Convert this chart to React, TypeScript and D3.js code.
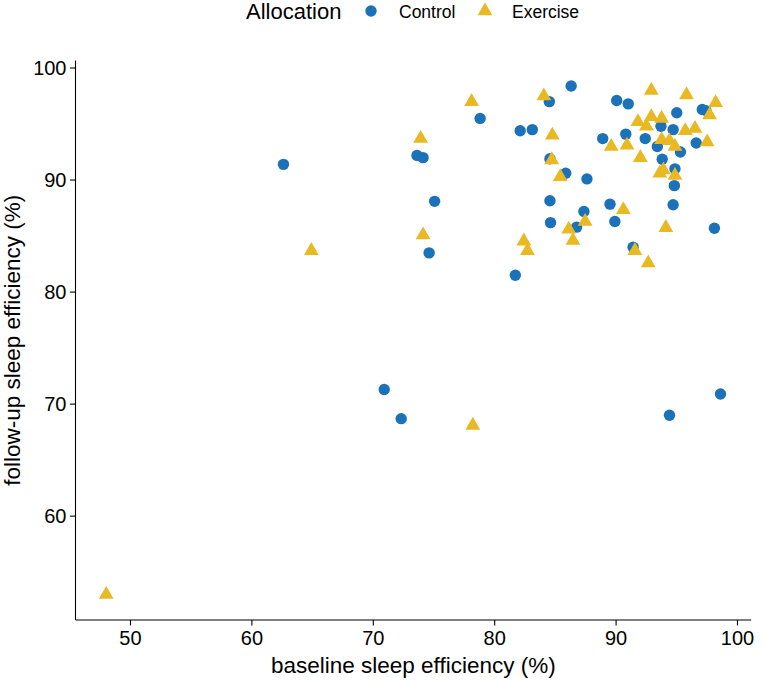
import React from "react";
import * as d3 from "d3";

const controlBaseline = [62.6, 70.9, 72.3, 73.6, 74.1, 75.05, 74.6, 78.8, 81.7, 82.1, 83.1, 84.5, 86.3, 84.55, 85.85, 84.55, 84.6, 87.6, 87.35, 86.75, 88.9, 89.5, 89.9, 90.05, 91.0, 90.8, 91.4, 92.4, 93.4, 93.7, 93.8, 94.7, 95.0, 95.3, 94.85, 94.8, 94.7, 96.6, 97.1, 97.4, 98.1, 94.4, 98.6];
const controlFollowup = [91.4, 71.3, 68.7, 92.2, 92.0, 88.1, 83.5, 95.5, 81.5, 94.4, 94.5, 97.0, 98.4, 91.9, 90.6, 88.15, 86.2, 90.1, 87.2, 85.8, 93.7, 87.85, 86.3, 97.1, 96.8, 94.1, 84.0, 93.7, 93.0, 94.8, 91.85, 94.5, 96.0, 92.5, 91.0, 89.5, 87.8, 93.3, 96.3, 96.2, 85.7, 69.0, 70.9];

const exerciseBaseline = [48.0, 64.9, 73.9, 74.1, 78.1, 78.2, 82.4, 82.7, 84.05, 84.75, 84.7, 85.4, 86.1, 86.45, 87.45, 89.6, 90.9, 90.6, 91.8, 92.5, 92.9, 92.9, 93.75, 92.0, 93.75, 94.4, 94.85, 93.6, 93.9, 94.85, 94.1, 91.55, 92.65, 95.7, 96.5, 95.8, 97.5, 97.7, 98.2];
const exerciseFollowup = [53.0, 83.7, 93.7, 85.1, 97.0, 68.1, 84.55, 83.7, 97.5, 94.0, 91.8, 90.3, 85.6, 84.6, 86.3, 93.0, 93.1, 87.35, 95.2, 94.8, 95.65, 98.0, 95.5, 92.0, 93.6, 93.5, 93.0, 90.6, 90.9, 90.4, 85.75, 83.7, 82.6, 94.4, 94.6, 97.6, 93.4, 95.8, 96.9];

const xTicks = [50, 60, 70, 80, 90, 100];
const yTicks = [60, 70, 80, 90, 100];
const groups = ["Control", "Exercise"];

const W = 764;
const H = 682;
const FONT = "'Liberation Sans', Arial, sans-serif";
const BLUE = "#1c72b8";
const YELLOW = "#e8b923";

export default function App() {
  const left = 75.5, right = 751.2, top = 60.5, bottom = 620;
  const allX = [...controlBaseline, ...exerciseBaseline];
  const allY = [...controlFollowup, ...exerciseFollowup];
  const [x0, x1] = d3.extent(allX) as [number, number];
  const [y0, y1] = d3.extent(allY) as [number, number];
  const ex = (x1 - x0) * 0.05;
  const ey = (y1 - y0) * 0.05;
  const x = d3.scaleLinear().domain([x0 - ex, x1 + ex]).range([left, right]);
  const y = d3.scaleLinear().domain([y0 - ey, y1 + ey]).range([bottom, top]);
  const tri = d3.symbol().type(d3.symbolTriangle).size(95)() as string;

  return (
    <svg width={W} height={H} style={{ position: "absolute", left: 0, top: 0, background: "#fff" }} fontFamily={FONT}>
      <rect width={W} height={H} fill="#fff" />
      {/* legend */}
      <text x={246} y={18.5} fontSize={22} fill="#000">Allocation</text>
      <circle cx={371} cy={11} r={5.7} fill={BLUE} />
      <text x={399} y={17.5} fontSize={17.5} fill="#000">{groups[0]}</text>
      <path d={tri} transform={`translate(485,11)`} fill={YELLOW} />
      <text x={512} y={17.5} fontSize={17.5} fill="#000">{groups[1]}</text>

      {/* points */}
      {controlBaseline.map((v, i) => (
        <circle key={"c" + i} cx={x(v)} cy={y(controlFollowup[i])} r={5.7} fill={BLUE} />
      ))}
      {exerciseBaseline.map((v, i) => (
        <path key={"e" + i} d={tri} transform={`translate(${x(v)},${y(exerciseFollowup[i])})`} fill={YELLOW} />
      ))}

      {/* axes */}
      <line x1={left} x2={right} y1={bottom} y2={bottom} stroke="#000" strokeWidth={1.1} />
      <line x1={left} x2={left} y1={top} y2={bottom} stroke="#000" strokeWidth={1.1} />
      {xTicks.map((t) => (
        <g key={"xt" + t}>
          <line x1={x(t)} x2={x(t)} y1={bottom} y2={bottom + 5.5} stroke="#000" strokeWidth={1.1} />
          <text x={x(t)} y={bottom + 25} fontSize={20} textAnchor="middle" fill="#000">{t}</text>
        </g>
      ))}
      {yTicks.map((t) => (
        <g key={"yt" + t}>
          <line x1={left - 5.5} x2={left} y1={y(t)} y2={y(t)} stroke="#000" strokeWidth={1.1} />
          <text x={left - 9} y={y(t) + 7} fontSize={20} textAnchor="end" fill="#000">{t}</text>
        </g>
      ))}
      <text x={(left + right) / 2} y={673} fontSize={22.5} textAnchor="middle" fill="#000">baseline sleep efficiency (%)</text>
      <text transform={`translate(20,${(top + bottom) / 2}) rotate(-90)`} fontSize={22.5} textAnchor="middle" fill="#000">follow-up sleep efficiency (%)</text>
    </svg>
  );
}
